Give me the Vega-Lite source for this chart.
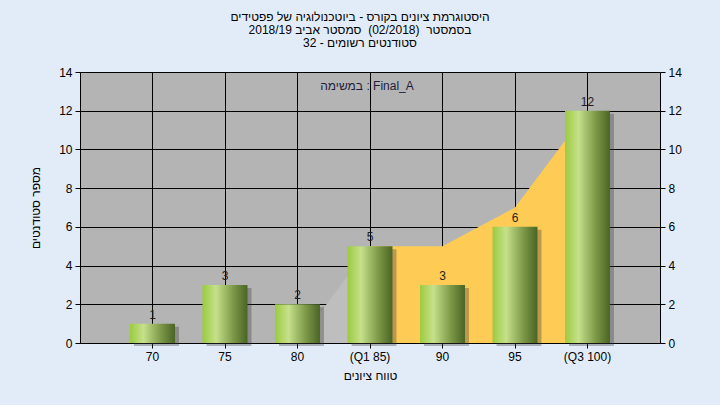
{
  "$schema": "https://vega.github.io/schema/vega-lite/v6.json",
  "width": 580,
  "height": 271,
  "autosize": {"type": "none"},
  "padding": {"left": 80, "top": 72, "right": 60, "bottom": 62},
  "background": "#E2ECF8",
  "config": {
    "view": {"fill": "#B4B4B4", "stroke": null},
    "font": "Liberation Sans",
    "axis": {
      "labelColor": "#000000",
      "labelFontSize": 12,
      "titleColor": "#000000",
      "titleFontSize": 12,
      "titleFontWeight": "normal",
      "tickColor": "#000000",
      "tickSize": 5,
      "domainColor": "#000000",
      "gridColor": "#000000",
      "gridOpacity": 1,
      "gridWidth": 1
    }
  },
  "title": {
    "text": [
      "היסטוגרמת ציונים בקורס - ביוטכנולוגיה של פפטידים",
      "בסמסטר \u00a0(02/2018)\u00a0 סמסטר אביב 2018/19",
      "סטודנטים רשומים - 32"
    ],
    "fontSize": 12,
    "fontWeight": "normal",
    "color": "#000000",
    "anchor": "middle",
    "lineHeight": 13,
    "offset": 16,
    "dx": -10
  },
  "datasets": {
    "bars": [
      {"range": "70", "n": 1},
      {"range": "75", "n": 3},
      {"range": "80", "n": 2},
      {"range": "(Q1 85)", "n": 5},
      {"range": "90", "n": 3},
      {"range": "95", "n": 6},
      {"range": "(Q3 100)", "n": 12}
    ],
    "lead": [
      {"range": "80", "n": 0},
      {"range": "(Q1 85)", "n": 5}
    ],
    "iqr": [
      {"range": "(Q1 85)", "n": 5},
      {"range": "90", "n": 5},
      {"range": "95", "n": 7},
      {"range": "(Q3 100)", "n": 12}
    ],
    "note": [
      {"label": "במשימה : Final_A"}
    ]
  },
  "encoding": {
    "x": {
      "field": "range",
      "type": "nominal",
      "scale": {
        "type": "band",
        "domain": ["70", "75", "80", "(Q1 85)", "90", "95", "(Q3 100)"],
        "paddingInner": 0.38,
        "paddingOuter": 0.69
      },
      "axis": {
        "title": "טווח ציונים",
        "labelAngle": 0,
        "labelPadding": 3,
        "titlePadding": 8,
        "grid": true,
        "bandPosition": 0.5
      }
    }
  },
  "resolve": {"axis": {"y": "independent"}},
  "layer": [
    {
      "data": {"name": "lead"},
      "mark": {"type": "area", "color": "#BEBEBE", "opacity": 1},
      "encoding": {
        "x": {"field": "range", "type": "nominal", "bandPosition": 0.5},
        "y": {"field": "n", "type": "quantitative", "scale": {"domain": [0, 14], "nice": false}, "axis": null}
      }
    },
    {
      "data": {"name": "iqr"},
      "mark": {"type": "area", "color": "#FECB55", "opacity": 1},
      "encoding": {
        "x": {"field": "range", "type": "nominal", "bandPosition": 0.5},
        "y": {"field": "n", "type": "quantitative", "axis": null}
      }
    },
    {
      "data": {"name": "bars"},
      "mark": {"type": "bar", "color": "#3C3C3C", "opacity": 0.35, "xOffset": 4, "yOffset": 3},
      "encoding": {
        "y": {
          "field": "n",
          "type": "quantitative",
          "axis": {
            "orient": "right",
            "title": null,
            "values": [0, 2, 4, 6, 8, 10, 12, 14],
            "grid": false,
            "labelPadding": 3
          }
        }
      }
    },
    {
      "data": {"name": "bars"},
      "mark": {
        "type": "bar",
        "color": {
          "gradient": "linear",
          "x1": 0, "y1": 0, "x2": 1, "y2": 0,
          "stops": [
            {"offset": 0, "color": "#9BCB3F"},
            {"offset": 0.3, "color": "#C6E08B"},
            {"offset": 0.7, "color": "#7A9645"},
            {"offset": 1, "color": "#4A6425"}
          ]
        }
      },
      "encoding": {
        "y": {
          "field": "n",
          "type": "quantitative",
          "axis": {
            "orient": "left",
            "title": "מספר סטודנטים",
            "values": [0, 2, 4, 6, 8, 10, 12, 14],
            "grid": true,
            "labelPadding": 3,
            "titlePadding": 16
          }
        }
      }
    },
    {
      "data": {"name": "bars"},
      "mark": {"type": "text", "baseline": "bottom", "dy": -2, "fontSize": 12, "color": "#1E1E1E"},
      "encoding": {
        "x": {"field": "range", "type": "nominal", "bandPosition": 0.5},
        "y": {"field": "n", "type": "quantitative", "axis": null},
        "text": {"field": "n", "type": "quantitative"}
      }
    },
    {
      "data": {"name": "note"},
      "mark": {"type": "text", "baseline": "middle", "align": "center", "fontSize": 12, "color": "#1E1E3C", "dx": -3},
      "encoding": {
        "x": {"datum": "(Q1 85)", "type": "nominal", "bandPosition": 0.5},
        "y": {"datum": 13.3, "type": "quantitative", "axis": null},
        "text": {"field": "label", "type": "nominal"}
      }
    }
  ]
}
